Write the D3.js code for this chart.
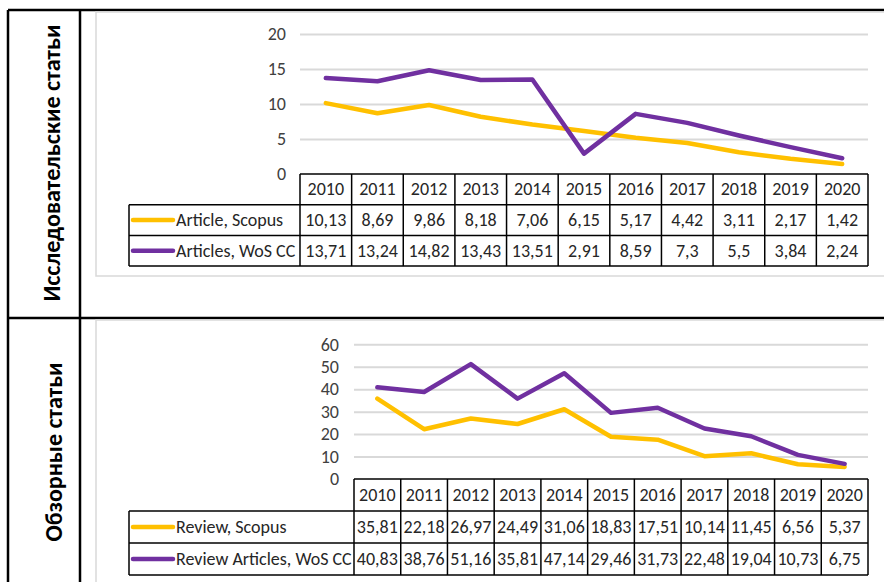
<!DOCTYPE html>
<html><head><meta charset="utf-8">
<script src="https://cdn.jsdelivr.net/npm/d3@7"></script>
<style>html,body{margin:0;padding:0;background:#fff;}svg{display:block;}</style>
</head><body>
<svg id="c" width="884" height="582"></svg>
<script>
const years = ["2010","2011","2012","2013","2014","2015","2016","2017","2018","2019","2020"];
const articleScopus = [10.13, 8.69, 9.86, 8.18, 7.06, 6.15, 5.17, 4.42, 3.11, 2.17, 1.42];
const articlesWoS   = [13.71, 13.24, 14.82, 13.43, 13.51, 2.91, 8.59, 7.3, 5.5, 3.84, 2.24];
const reviewScopus  = [35.81, 22.18, 26.97, 24.49, 31.06, 18.83, 17.51, 10.14, 11.45, 6.56, 5.37];
const reviewWoS     = [40.83, 38.76, 51.16, 35.81, 47.14, 29.46, 31.73, 22.48, 19.04, 10.73, 6.75];
const topTicks = [0, 5, 10, 15, 20];
const bottomTicks = [0, 10, 20, 30, 40, 50, 60];
const topSeriesNames = ["Article, Scopus", "Articles, WoS CC"];
const bottomSeriesNames = ["Review, Scopus", "Review Articles, WoS CC"];
const rowLabels = ["Исследовательские статьи", "Обзорные статьи"];

function hasFont(name){
  const c = document.createElement('canvas').getContext('2d');
  const t = 'mmmmmmmmmmwwwwwlli0123456789';
  let diff = false;
  for (const base of ['monospace','serif']) {
    c.font = '72px ' + base; const a = c.measureText(t).width;
    c.font = '72px "' + name + '", ' + base; const b = c.measureText(t).width;
    if (a !== b) diff = true;
  }
  return diff;
}
let FONT = 'Roboto', FS = 16;
if (hasFont('Carlito')) { FONT = 'Carlito'; FS = 18; }
else if (hasFont('Liberation Sans Narrow')) { FONT = 'Liberation Sans Narrow'; FS = 18; }

const YEL = '#FFC000', PUR = '#7030A0';
const svg = d3.select('#c');
const fmt = v => String(v).replace('.', ',');

// outer frame of the table
const outer = svg.append('g').attr('stroke', '#000').attr('stroke-width', 2.5).attr('fill', 'none');
outer.append('line').attr('x1', 8).attr('x2', 884).attr('y1', 10).attr('y2', 10);
outer.append('line').attr('x1', 8).attr('x2', 884).attr('y1', 318).attr('y2', 318);
outer.append('line').attr('x1', 8).attr('x2', 8).attr('y1', 10).attr('y2', 582);
outer.append('line').attr('x1', 80).attr('x2', 80).attr('y1', 10).attr('y2', 582);

// chart frames
svg.append('path').attr('d', 'M884,12 H96 V276 H884').attr('fill', 'none').attr('stroke', '#D9D9D9').attr('stroke-width', 1.5);
svg.append('path').attr('d', 'M884,320 H96 V582').attr('fill', 'none').attr('stroke', '#D9D9D9').attr('stroke-width', 1.5);

// row labels
function rowLabel(text, cx, cy, len){
  const t = svg.append('text').text(text)
    .attr('transform', `translate(${cx},${cy}) rotate(-90)`)
    .attr('text-anchor', 'middle').attr('dominant-baseline', 'central')
    .attr('font-family', FONT).attr('font-weight', 'bold').attr('font-size', 20).attr('fill', '#000');
  const w = t.node().getComputedTextLength();
  t.attr('font-size', 20 * len / w);
}
rowLabel(rowLabels[0], 52, 163, 277);
rowLabel(rowLabels[1], 53, 452, 179);

function chart(cfg){
  const g = svg.append('g');
  const x = d3.scaleBand().domain(years).range([cfg.x0, cfg.x1]);
  const y = d3.scaleLinear().domain([0, d3.max(cfg.ticks)]).range([cfg.yZero, cfg.yTop]);
  // gridlines
  const grid = d3.axisLeft(y).tickValues(cfg.ticks.filter(v => v > 0)).tickSize(-(cfg.x1 - cfg.x0)).tickFormat('');
  g.append('g').attr('transform', `translate(${cfg.x0},0)`).call(grid)
    .call(s => s.select('.domain').remove())
    .call(s => s.selectAll('line').attr('stroke', '#D9D9D9').attr('stroke-width', 2));
  // tick labels
  const ax = d3.axisLeft(y).tickValues(cfg.ticks).tickSize(0).tickPadding(0);
  g.append('g').attr('transform', `translate(${cfg.labelX},0)`).call(ax)
    .call(s => s.select('.domain').remove())
    .call(s => s.selectAll('text').attr('font-family', FONT).attr('font-size', FS).attr('fill', '#404040'));
  // lines
  const line = d3.line().x((d, i) => x(years[i]) + x.bandwidth() / 2).y(d => y(d));
  cfg.series.forEach((s, k) => {
    g.append('path').datum(s.values).attr('d', line).attr('fill', 'none')
      .attr('stroke', s.color).attr('stroke-width', 4.5)
      .attr('stroke-linejoin', 'round').attr('stroke-linecap', 'round');
  });
  // data table
  const rows = [cfg.yZero, cfg.yZero + cfg.rowH, cfg.yZero + 2 * cfg.rowH, cfg.yZero + 3 * cfg.rowH];
  const tb = g.append('g').attr('stroke', '#000').attr('stroke-width', 1.5).attr('fill', 'none');
  tb.append('line').attr('x1', cfg.x0).attr('x2', cfg.x1).attr('y1', rows[0]).attr('y2', rows[0]);
  [1, 2, 3].forEach(r => tb.append('line').attr('x1', cfg.legX).attr('x2', cfg.x1).attr('y1', rows[r]).attr('y2', rows[r]));
  tb.append('line').attr('x1', cfg.legX).attr('x2', cfg.legX).attr('y1', rows[1]).attr('y2', rows[3]);
  years.forEach(yr => tb.append('line').attr('x1', x(yr)).attr('x2', x(yr)).attr('y1', rows[0]).attr('y2', rows[3]));
  tb.append('line').attr('x1', cfg.x1).attr('x2', cfg.x1).attr('y1', rows[0]).attr('y2', rows[3]);
  const txt = g.append('g').attr('font-family', FONT).attr('font-size', FS).attr('fill', '#262626');
  years.forEach(yr => txt.append('text').text(yr).attr('x', x(yr) + x.bandwidth() / 2)
    .attr('y', (rows[0] + rows[1]) / 2).attr('text-anchor', 'middle').attr('dominant-baseline', 'central'));
  cfg.series.forEach((s, k) => {
    const cy = (rows[k + 1] + rows[k + 2]) / 2;
    g.append('line').attr('x1', cfg.legX + 4).attr('x2', cfg.legX + 44).attr('y1', cy).attr('y2', cy)
      .attr('stroke', s.color).attr('stroke-width', 4.5).attr('stroke-linecap', 'round');
    txt.append('text').text(s.name).attr('x', cfg.legX + 47).attr('y', cy).attr('dominant-baseline', 'central');
    s.values.forEach((v, i) => txt.append('text').text(fmt(v)).attr('x', x(years[i]) + x.bandwidth() / 2)
      .attr('y', cy).attr('text-anchor', 'middle').attr('dominant-baseline', 'central'));
  });
}

chart({ x0: 300, x1: 868, yZero: 174, yTop: 34, ticks: topTicks, labelX: 286, rowH: 30.7, legX: 129,
  series: [{ name: topSeriesNames[0], values: articleScopus, color: YEL }, { name: topSeriesNames[1], values: articlesWoS, color: PUR }] });
chart({ x0: 354, x1: 868, yZero: 479, yTop: 344.3, ticks: bottomTicks, labelX: 339, rowH: 32, legX: 129,
  series: [{ name: bottomSeriesNames[0], values: reviewScopus, color: YEL }, { name: bottomSeriesNames[1], values: reviewWoS, color: PUR }] });
</script>
</body></html>
